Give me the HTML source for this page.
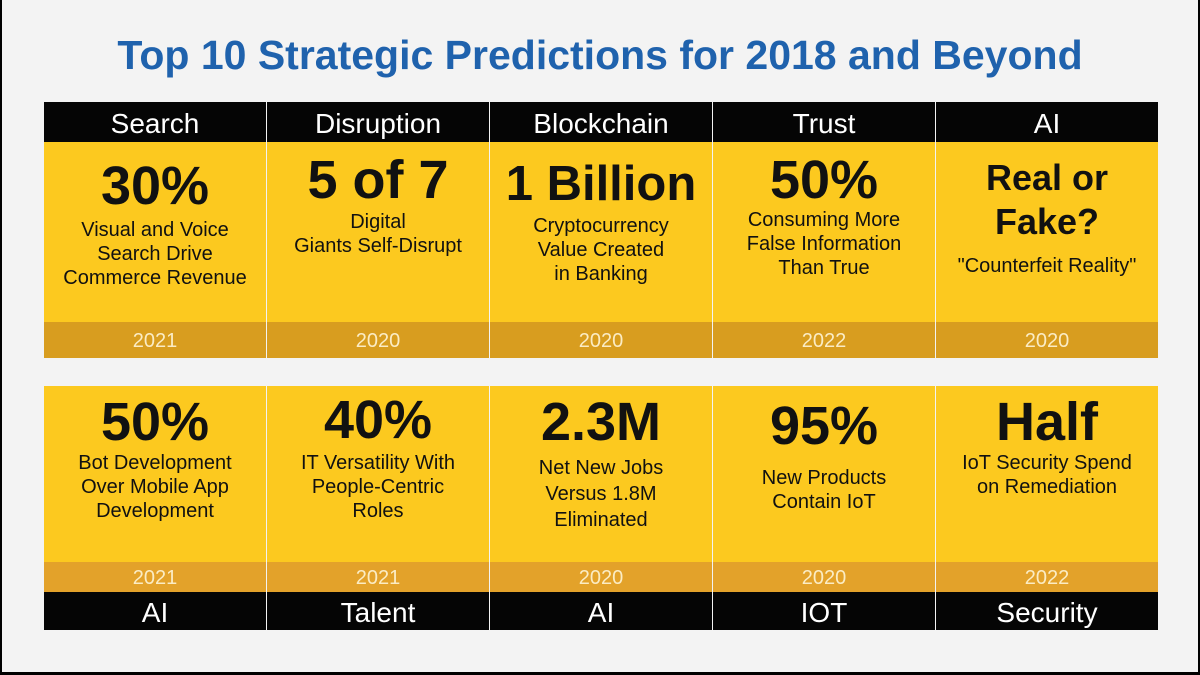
<!DOCTYPE html>
<html><head><meta charset="utf-8"><style>
body{margin:0;width:1200px;height:675px;overflow:hidden;background:#000;font-family:"Liberation Sans",sans-serif}
#frame{position:absolute;left:2px;top:0;width:1196px;height:672px;background:#f3f3f3}
h1{position:absolute;left:0;top:32px;width:1200px;margin:0;text-align:center;color:#1f62ad;font-size:41px;font-weight:bold}
.cell{position:absolute;width:222px;text-align:center}
.hdr{background:#050505;color:#fff;font-size:28px}
.yel{background:#fcc91f;color:#111}
.band{color:#fbecc4;font-size:20px}
.big{font-weight:bold;font-size:54px;line-height:56px;position:absolute;left:0;width:100%}
.txt{font-size:20px;line-height:24px;position:absolute;left:0;width:100%}
</style></head><body>
<div id="frame"></div>
<h1>Top 10 Strategic Predictions for 2018 and Beyond</h1>
<div id="grid"></div>
<script>
const topCats=["Search","Disruption","Blockchain","Trust","AI"];
const topBig=["30%","5 of 7","1 Billion","50%","Real or\nFake?"];
const topTxt=["Visual and Voice\nSearch Drive\nCommerce Revenue","Digital\nGiants Self-Disrupt","Cryptocurrency\nValue Created\nin Banking","Consuming More\nFalse Information\nThan True","\"Counterfeit Reality\""];
const topYears=["2021","2020","2020","2022","2020"];
const botCats=["AI","Talent","AI","IOT","Security"];
const botBig=["50%","40%","2.3M","95%","Half"];
const botTxt=["Bot Development\nOver Mobile App\nDevelopment","IT Versatility With\nPeople-Centric\nRoles","Net New Jobs\nVersus 1.8M\nEliminated","New Products\nContain IoT","IoT Security Spend\non Remediation"];
const botYears=["2021","2021","2020","2020","2022"];
// layout (pixel offsets, not data)
const topBigY=[16,10,14,10,14], topTxtY=[76,68,72,66,112];
const botBigY=[8,6,8,12,8], botTxtY=[65,65,69,80,65];
const g=document.getElementById('grid');
function mk(cls,x,y,h,html){const d=document.createElement('div');d.className='cell '+cls;d.style.left=x+'px';d.style.top=y+'px';d.style.height=h+'px';d.innerHTML=html;g.appendChild(d);return d;}
const br=s=>s.replace(/\n/g,'<br>');
for(let i=0;i<5;i++){
 const x=44+i*223;
 let d=mk('hdr',x,102,40,'<div style="line-height:43px">'+topCats[i]+'</div>');
 
 const two=topBig[i].includes('\n');
 d=mk('yel',x,142,180,'<div class="big" style="top:'+topBigY[i]+'px;'+(two?'font-size:36px;line-height:44px':'')+'">'+br(topBig[i])+'</div><div class="txt" style="top:'+topTxtY[i]+'px">'+br(topTxt[i])+'</div>');
 if(i==2)d.querySelector('.big').style.fontSize='49px';
 d.style.background='#fcc91f';
 
 d=mk('band',x,322,36,'<div style="line-height:38px">'+topYears[i]+'</div>');
 d.style.background='#d89d1f';
 
 d=mk('yel',x,386,176,'<div class="big" style="top:'+botBigY[i]+'px">'+botBig[i]+'</div><div class="txt" style="top:'+botTxtY[i]+'px;'+(i==2?'line-height:26px':'')+'">'+br(botTxt[i])+'</div>');
 
 d=mk('band',x,562,30,'<div style="line-height:32px">'+botYears[i]+'</div>');
 d.style.background='#e3a22a';
 
 d=mk('hdr',x,592,38,'<div style="line-height:41px">'+botCats[i]+'</div>');
 
}
</script>
</body></html>
